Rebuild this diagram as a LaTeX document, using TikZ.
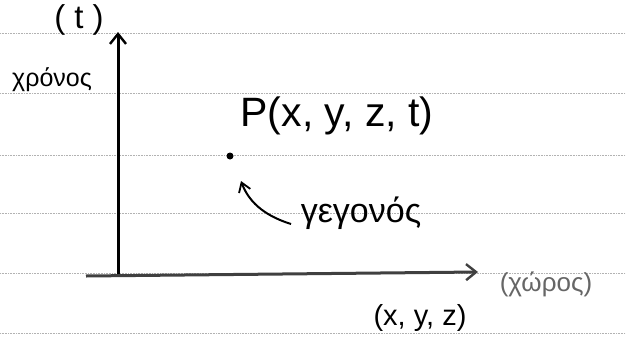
\documentclass[tikz,border=0pt]{standalone}
\usepackage{fontspec}
\setmainfont{Liberation Sans}
\usetikzlibrary{arrows.meta}
\begin{document}
\begin{tikzpicture}[x=1pt,y=-1pt,
  rule/.style={gray!60, densely dotted, line width=0.6pt},
  axis/.style={line width=3pt, -{Straight Barb[length=10pt,width=16pt,line width=2.4pt]}},
  lbl/.style={inner sep=0pt, text=black}]
\useasboundingbox (0,0) rectangle (626,351);
\fill[white] (0,0) rectangle (626,351);
% ruled paper lines
\foreach \yy in {33,93,155,213,273,333}
  \draw[rule] (0,\yy) -- (626,\yy);
% axes
\coordinate (orig) at (118,275);
\coordinate (ttop) at (118,32);
\coordinate (sleft) at (86,276);
\coordinate (sright) at (478,272);
\draw[axis] (orig) -- (ttop);
\draw[axis, black!75] (sleft) -- (sright);
% labels
\node[lbl, font=\fontsize{33}{38}\selectfont] (t) at (79,20) {( t )};
\node[lbl, font=\fontsize{25}{30}\selectfont] (chronos) at (52,80) {χρόνος};
\node[lbl, font=\fontsize{41}{46}\selectfont] (P) at (337,116) {P(x, y, z, t)};
\fill (230,156) circle (3.5pt) coordinate (ev);
\node[lbl, font=\fontsize{34}{40}\selectfont] (gegonos) at (361,213) {γεγονός};
\node[lbl, font=\fontsize{29}{34}\selectfont] (xyz) at (420,318) {(x, y, z)};
\node[lbl, font=\fontsize{26}{30}\selectfont, text=black!60] (choros) at (546,284) {(χώρος)};
\coordinate (tail) at (291,224);
\coordinate (tip) at (241,181);
\draw[line width=2pt, -{Straight Barb[length=9pt,width=12pt,line width=1.8pt]}]
  (tail) .. controls (262,215) and (248,200) .. (tip);
\end{tikzpicture}
\end{document}
